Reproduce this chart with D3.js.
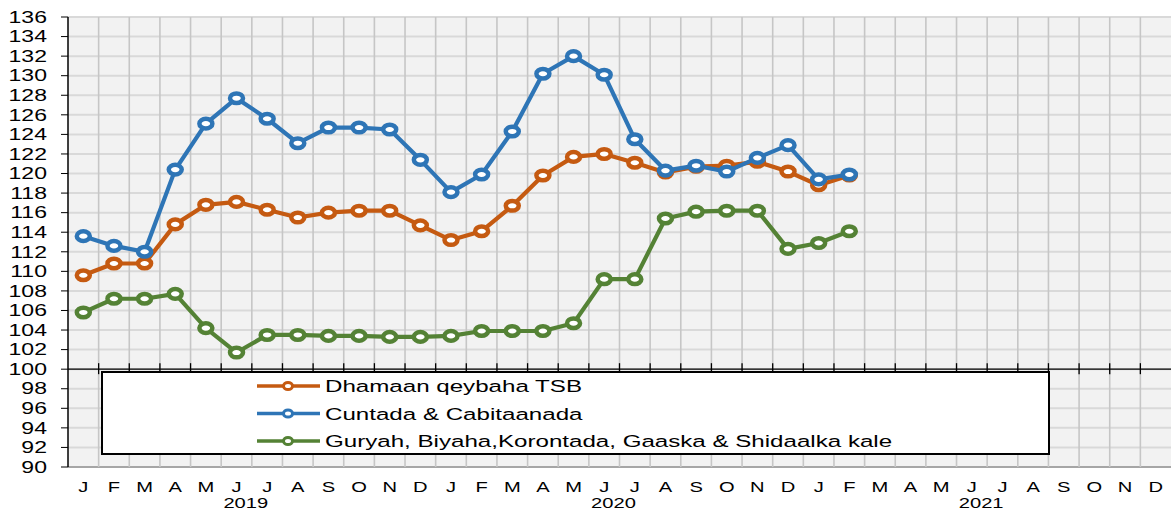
<!DOCTYPE html>
<html>
<head>
<meta charset="utf-8">
<script src="https://cdn.jsdelivr.net/npm/d3@7"></script>
<style>
  html, body { margin: 0; padding: 0; background: #fff; }
  svg { display: block; font-family: "Liberation Sans", Arial, sans-serif; }
</style>
</head>
<body>
<div id="chart"></div>
<script>
// Bilaha (36 bilood: 2019 - 2021)
const monthLetters = ["J","F","M","A","M","J","J","A","S","O","N","D"];
const years = ["2019", "2020", "2021"];

// Xogta taxanaha (Jan 2019 - Feb 2021)
const dhamaan = [109.6, 110.8, 110.8, 114.8, 116.8, 117.1, 116.3, 115.5, 116.0, 116.2, 116.2, 114.7,
                 113.2, 114.1, 116.7, 119.8, 121.7, 122.0, 121.1, 120.1, 120.7, 120.8, 121.2, 120.2,
                 118.8, 119.8];
const cuntada = [113.6, 112.6, 112.0, 120.4, 125.1, 127.7, 125.6, 123.1, 124.7, 124.7, 124.5, 121.4,
                 118.1, 119.9, 124.3, 130.2, 132.0, 130.1, 123.5, 120.3, 120.8, 120.2, 121.6, 122.9,
                 119.4, 119.9];
const guryah = [105.8, 107.2, 107.2, 107.7, 104.2, 101.7, 103.5, 103.5, 103.4, 103.4, 103.3, 103.3,
                103.4, 103.9, 103.9, 103.9, 104.7, 109.2, 109.2, 115.4, 116.1, 116.2, 116.2, 112.3,
                112.9, 114.1];

const seriesNames = ["Dhamaan qeybaha TSB", "Cuntada & Cabitaanada", "Guryah, Biyaha,Korontada, Gaaska & Shidaalka kale"];
const seriesColors = ["#c55a11", "#2e75b6", "#548235"];
const yTicks = d3.range(90, 137, 2);

const series = [
  { name: seriesNames[0], color: seriesColors[0], values: dhamaan },
  { name: seriesNames[1], color: seriesColors[1], values: cuntada },
  { name: seriesNames[2], color: seriesColors[2], values: guryah }
];

const width = 1171, height = 510;
const margin = { top: 17, right: 0, bottom: 43, left: 68 };
const sx = 1.44; // kala-bixinta qoraalka ee jiifka ah

const svg = d3.select("#chart").append("svg")
  .attr("width", width)
  .attr("height", height);

const months = d3.range(36);
const x = d3.scaleBand()
  .domain(months)
  .range([margin.left, width - margin.right]);

const y = d3.scaleLinear()
  .domain([90, 136])
  .range([height - margin.bottom, margin.top]);

// Asalka
svg.append("rect")
  .attr("x", margin.left)
  .attr("y", margin.top)
  .attr("width", width - margin.right - margin.left)
  .attr("height", y(90) - y(136))
  .attr("fill", "#f2f2f2");

// Xariiqyada jiifka
svg.append("g")
  .selectAll("line")
  .data(yTicks)
  .join("line")
  .attr("x1", margin.left)
  .attr("x2", width - margin.right)
  .attr("y1", d => y(d))
  .attr("y2", d => y(d))
  .attr("stroke", d => d === 90 ? "#a6a6a6" : "#d9d9d9")
  .attr("stroke-width", 2);

// Xariiqyada taagan
svg.append("g")
  .selectAll("line")
  .data(months.slice(1))
  .join("line")
  .attr("x1", d => x(d))
  .attr("x2", d => x(d))
  .attr("y1", y(136))
  .attr("y2", y(90))
  .attr("stroke", "#c6c6c6")
  .attr("stroke-width", 1.6);

// Dhidibka Y
svg.append("line")
  .attr("x1", margin.left).attr("x2", margin.left)
  .attr("y1", y(136)).attr("y2", y(90))
  .attr("stroke", "#000").attr("stroke-width", 1.5);

svg.append("g")
  .selectAll("line")
  .data(yTicks)
  .join("line")
  .attr("x1", margin.left - 7)
  .attr("x2", margin.left)
  .attr("y1", d => y(d))
  .attr("y2", d => y(d))
  .attr("stroke", "#000")
  .attr("stroke-width", 1);

svg.append("g")
  .selectAll("text")
  .data(yTicks)
  .join("text")
  .attr("transform", d => `translate(47,${y(d)}) scale(${sx},1)`)
  .attr("text-anchor", "end")
  .attr("dy", "0.36em")
  .style("font-size", "16px")
  .attr("fill", "#000")
  .text(d => d);

// Dhidibka X (wuxuu ka gudbaa 100)
svg.append("line")
  .attr("x1", margin.left).attr("x2", width)
  .attr("y1", y(100)).attr("y2", y(100))
  .attr("stroke", "#000").attr("stroke-width", 1.3);

svg.append("g")
  .selectAll("line")
  .data(months.slice(1))
  .join("line")
  .attr("x1", d => x(d))
  .attr("x2", d => x(d))
  .attr("y1", y(100) - 6)
  .attr("y2", y(100) + 5)
  .attr("stroke", "#000")
  .attr("stroke-width", 1.3);

// Calaamadaha bilaha
svg.append("g")
  .selectAll("text")
  .data(months)
  .join("text")
  .attr("transform", d => `translate(${x(d) + x.bandwidth() / 2},492) scale(${sx},1)`)
  .attr("text-anchor", "middle")
  .style("font-size", "14px")
  .text(d => monthLetters[d % 12]);

svg.append("g")
  .selectAll("text")
  .data(years)
  .join("text")
  .attr("transform", (d, i) => `translate(${x(i * 12 + 6) - 6},508) scale(${sx},1)`)
  .attr("text-anchor", "middle")
  .style("font-size", "14px")
  .text(d => d);

// Xariiqyada taxanaha
const line = d3.line()
  .x((d, i) => x(i) + x.bandwidth() / 2)
  .y(d => y(d));

const drawOrder = [series[2], series[0], series[1]];

drawOrder.forEach(s => {
  svg.append("path")
    .datum(s.values)
    .attr("fill", "none")
    .attr("stroke", s.color)
    .attr("stroke-width", 4.2)
    .attr("stroke-linejoin", "round")
    .attr("d", line);

  svg.append("g")
    .selectAll("ellipse")
    .data(s.values)
    .join("ellipse")
    .attr("cx", (d, i) => x(i) + x.bandwidth() / 2)
    .attr("cy", d => y(d))
    .attr("rx", 6.5)
    .attr("ry", 4.8)
    .attr("fill", "#fff")
    .attr("stroke", s.color)
    .attr("stroke-width", 4.5);
});

// Sharaxaadda (legend)
const legend = svg.append("g");
legend.append("rect")
  .attr("x", 102)
  .attr("y", 372)
  .attr("width", 947)
  .attr("height", 82)
  .attr("fill", "#fff")
  .attr("stroke", "#000")
  .attr("stroke-width", 2);

const legendItems = legend.selectAll("g")
  .data(series)
  .join("g")
  .attr("transform", (d, i) => `translate(0,${386 + i * 27.5})`);

legendItems.append("line")
  .attr("x1", 257).attr("x2", 320)
  .attr("y1", 0).attr("y2", 0)
  .attr("stroke", d => d.color)
  .attr("stroke-width", 3.5);

legendItems.append("ellipse")
  .attr("cx", 288).attr("cy", 0)
  .attr("rx", 4.5).attr("ry", 3.5)
  .attr("fill", "#fff")
  .attr("stroke", d => d.color)
  .attr("stroke-width", 3);

legendItems.append("text")
  .attr("transform", `translate(325,6) scale(1.42,1)`)
  .style("font-size", "17px")
  .text(d => d.name);
</script>
</body>
</html>
